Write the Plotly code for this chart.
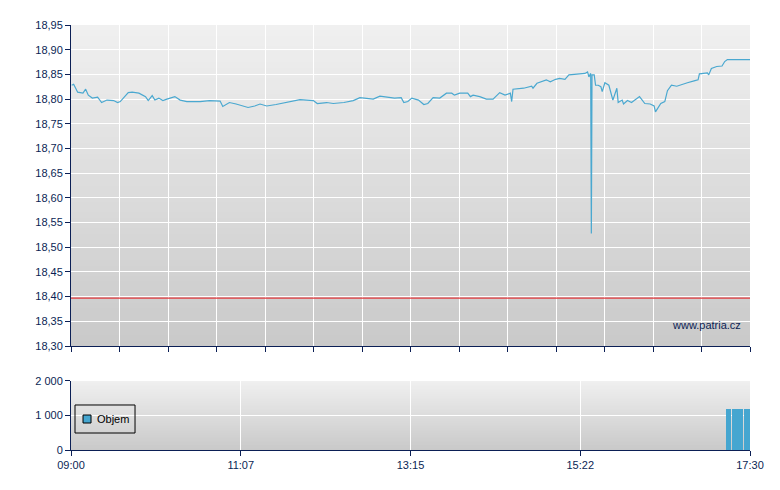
import plotly.graph_objects as go
import pandas as pd

DAY = "2000-01-01 "

price_times = [
    "09:00:30", "09:02", "09:05", "09:09", "09:11", "09:13", "09:16", "09:20", "09:23", "09:27",
    "09:32", "09:35", "09:37", "09:43", "09:46", "09:51", "09:56", "09:58", "10:01", "10:03",
    "10:06", "10:09", "10:12", "10:18", "10:22", "10:27", "10:37", "10:44", "10:52", "10:54",
    "10:59", "11:04", "11:13", "11:18", "11:22", "11:27", "11:34", "11:42", "11:52", "12:02",
    "12:05", "12:12", "12:17", "12:25", "12:32", "12:37", "12:42", "12:47", "12:52", "13:00",
    "13:03", "13:08", "13:10", "13:13", "13:16", "13:21", "13:25", "13:28", "13:32", "13:37",
    "13:42", "13:46", "13:48", "13:52", "13:58", "14:00", "14:02", "14:07", "14:12", "14:17",
    "14:22", "14:26", "14:30", "14:31", "14:32", "14:40", "14:46", "14:47", "14:50", "14:57",
    "15:00", "15:04", "15:07", "15:11", "15:14", "15:22", "15:26", "15:28", "15:29", "15:30:20",
    "15:30:50", "15:31:20", "15:33", "15:34", "15:36", "15:38", "15:39", "15:41", "15:44", "15:47",
    "15:50", "15:51", "15:54", "15:55", "15:58", "16:01", "16:07", "16:11", "16:15", "16:18",
    "16:19", "16:23", "16:26", "16:28", "16:31", "16:35", "16:39", "16:43", "16:48", "16:51",
    "16:52", "16:55", "16:58", "16:59", "17:01", "17:05", "17:09", "17:11", "17:13", "17:30",
]
price_values = [
    18.828, 18.830, 18.814, 18.812, 18.820, 18.808, 18.802, 18.804, 18.793, 18.798,
    18.797, 18.793, 18.795, 18.813, 18.814, 18.812, 18.805, 18.797, 18.807, 18.798,
    18.802, 18.797, 18.800, 18.805, 18.798, 18.795, 18.795, 18.797, 18.796, 18.785,
    18.793, 18.790, 18.783, 18.786, 18.790, 18.786, 18.789, 18.793, 18.799, 18.797,
    18.791, 18.793, 18.791, 18.793, 18.797, 18.803, 18.802, 18.800, 18.806, 18.802,
    18.802, 18.803, 18.793, 18.795, 18.802, 18.798, 18.789, 18.791, 18.803, 18.802,
    18.812, 18.812, 18.808, 18.812, 18.812, 18.805, 18.808, 18.805, 18.800, 18.800,
    18.813, 18.808, 18.812, 18.795, 18.820, 18.822, 18.826, 18.822, 18.832, 18.839,
    18.835, 18.840, 18.842, 18.840, 18.849, 18.851, 18.852, 18.855, 18.845, 18.852,
    18.528, 18.849, 18.849, 18.828, 18.828, 18.825, 18.815, 18.833, 18.828, 18.798,
    18.822, 18.793, 18.798, 18.790, 18.797, 18.793, 18.805, 18.791, 18.790, 18.786,
    18.774, 18.791, 18.795, 18.817, 18.828, 18.826, 18.830, 18.833, 18.837, 18.839,
    18.851, 18.852, 18.853, 18.849, 18.862, 18.866, 18.867, 18.876, 18.880, 18.880,
]
reference_price = 18.397

volume_times = ["17:13", "17:14", "17:15", "17:17", "17:18", "17:19", "17:20", "17:21",
                "17:22", "17:23", "17:24", "17:26", "17:28", "17:29", "17:30"]
volume_values = [1200] * 15

price_tick_range = [18.30, 18.95]
volume_tickvals = [0, 1000, 2000]
volume_ticktext = ["0", "1 000", "2 000"]
session_start, session_end = "09:00", "17:30"
legend_label = "Objem"
watermark = "www.patria.cz"

NAVY = "#0b1f55"
LINE = "#4aa8d0"
BAR = "#45a6d0"
FONT = "Liberation Sans, Arial, sans-serif"

px = [pd.Timestamp(DAY + t) for t in price_times]
vx = [pd.Timestamp(DAY + t) for t in volume_times]
t0, t1 = pd.Timestamp(DAY + session_start), pd.Timestamp(DAY + session_end)
top_ticks = list(pd.date_range(t0, t1, periods=15))
bot_ticks = list(pd.date_range(t0, t1, periods=5))

fig = go.Figure()
fig.add_trace(go.Scatter(x=px, y=price_values, mode="lines", line=dict(color=LINE, width=1.2),
                         showlegend=False, xaxis="x", yaxis="y"))
fig.add_trace(go.Scatter(x=[t0, t1], y=[reference_price] * 2, mode="lines",
                         line=dict(color="#e23a3e", width=1.2), showlegend=False, xaxis="x", yaxis="y"))
fig.add_trace(go.Bar(x=vx, y=volume_values, width=60000, marker=dict(color=BAR, line=dict(width=0)),
                     showlegend=False, xaxis="x2", yaxis="y2"))

shapes = []
N = 60
def grad(xref, yref, top, bot):
    out = []
    for i in range(N):
        f = (i + 0.5) / N
        c = [int(round(bot[k] + (top[k] - bot[k]) * f)) for k in range(3)]
        out.append(dict(type="rect", xref=xref, yref=yref, x0=0, x1=1, y0=i / N, y1=min(1, (i + 2) / N),
                        fillcolor="rgb(%d,%d,%d)" % tuple(c), line=dict(width=0), layer="below"))
    return out
shapes += grad("x domain", "y domain", (240, 240, 240), (201, 201, 201))
shapes += grad("x2 domain", "y2 domain", (240, 240, 240), (201, 201, 201))

# legend box (drawn manually to match the compact original legend)
shapes.append(dict(type="rect", xref="paper", yref="paper", x0=0.0059, x1=0.0943, y0=0.040, y1=0.1059,
                   line=dict(color="black", width=1), fillcolor="rgba(0,0,0,0)"))
shapes.append(dict(type="rect", xref="paper", yref="paper", x0=0.0177, x1=0.0295, y0=0.0635, y1=0.0823,
                   line=dict(color="black", width=1), fillcolor=BAR))

axis_common = dict(showline=True, linecolor=NAVY, linewidth=1, ticks="outside", ticklen=5,
                   tickcolor=NAVY, gridcolor="white", gridwidth=1, zeroline=False, automargin=False,
                   tickfont=dict(family=FONT, size=11, color=NAVY))

fig.update_layout(
    width=764, height=474,
    margin=dict(l=63, r=22, t=17, b=32, autoexpand=False),
    paper_bgcolor="white", plot_bgcolor="rgb(220,220,220)",
    separators=", ",
    shapes=shapes,
    showlegend=False,
    xaxis=dict(type="date", range=[t0, t1], tickmode="array", tickvals=top_ticks, showticklabels=False,
               domain=[0, 1], anchor="y", **axis_common),
    yaxis=dict(range=price_tick_range, dtick=0.05, tick0=18.30, tickformat=".2f",
               domain=[0.2447, 1], anchor="x", **axis_common),
    xaxis2=dict(type="date", range=[t0, t1], tickmode="array", tickvals=bot_ticks, tickformat="%H:%M",
                domain=[0, 1], anchor="y2", **axis_common),
    yaxis2=dict(range=[0, 2000], tickmode="array", tickvals=volume_tickvals, ticktext=volume_ticktext,
                domain=[0, 0.1624], anchor="x2", **axis_common),
    bargap=0,
    annotations=[
        dict(text=watermark, xref="x domain", yref="y domain", x=0.99, y=0.065,
             xanchor="right", yanchor="middle", showarrow=False,
             font=dict(family=FONT, size=11, color=NAVY)),
        dict(text=legend_label, xref="paper", yref="paper", x=0.0353, y=0.0729,
             xanchor="left", yanchor="middle", showarrow=False,
             font=dict(family=FONT, size=11, color="black")),
    ],
)

fig.write_html("out.html")
